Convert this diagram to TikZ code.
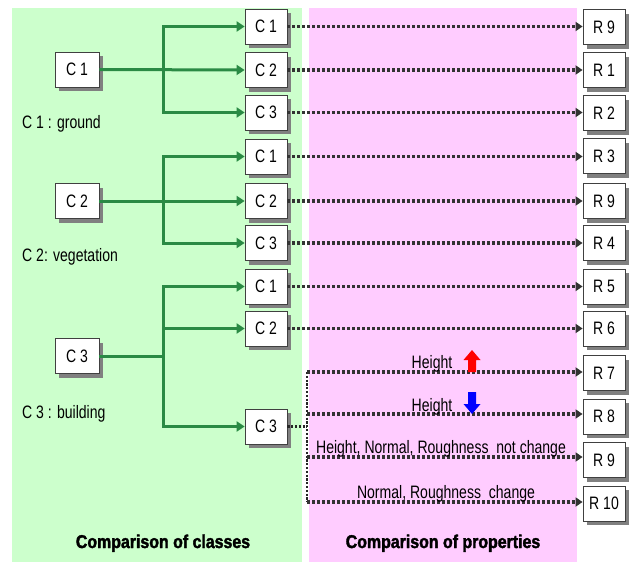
\documentclass[tikz,border=0pt]{standalone}
\usepackage{fontspec}
\setmainfont{Liberation Sans}[FakeStretch=0.78]
\newfontfamily\titlefont{Liberation Sans Bold}[FakeStretch=0.86, FakeBold=2]
\usetikzlibrary{arrows.meta,shadows}
\definecolor{panelgreen}{HTML}{CCFFCC}
\definecolor{panelpink}{HTML}{FFCCFF}
\definecolor{linegreen}{HTML}{2A8A44}
\definecolor{dotgray}{HTML}{333333}
\tikzset{
  cbox/.style={draw=black!75, line width=0.8pt, fill=white, minimum width=42pt,
    minimum height=35pt, inner sep=0pt, font=\fontsize{18}{20}\selectfont,
    drop shadow={shadow xshift=4pt, shadow yshift=-4pt, fill=black!50, opacity=1}},
  lbox/.style={cbox, minimum width=44pt},
  gline/.style={draw=linegreen, line width=3pt},
  garrow/.style={gline, -{Triangle[length=8pt,width=10pt]}},
  dline/.style={draw=dotgray, line width=3.2pt, dash pattern=on 3pt off 2pt},
  darrow/.style={dline, -{Triangle[length=7pt,width=9pt]}},
  vline/.style={draw=black!85, line width=2.2pt, dash pattern=on 2.2pt off 1.6pt},
  lbl/.style={font=\fontsize{18}{20}\selectfont, inner sep=0pt},
  title/.style={font=\titlefont\fontsize{18.5}{20}\selectfont, inner sep=0pt},
}
\begin{document}
\begin{tikzpicture}[x=1pt,y=-1pt]
\useasboundingbox (0,0) rectangle (629,562);
% background panels
\fill[panelgreen] (12,8) rectangle (302,562);
\fill[panelpink] (309,8) rectangle (577,562);

% source classes
\node[lbox] (L1) at (77,69.5) {C 1};
\node[lbox] (L2) at (77,201) {C 2};
\node[lbox] (L3) at (77,356) {C 3};

% target classes
\node[cbox] (M1) at (266,26.5) {C 1};
\node[cbox] (M2) at (266,70) {C 2};
\node[cbox] (M3) at (266,112.5) {C 3};
\node[cbox] (M4) at (266,156.5) {C 1};
\node[cbox] (M5) at (266,201) {C 2};
\node[cbox] (M6) at (266,243) {C 3};
\node[cbox] (M7) at (266,286.5) {C 1};
\node[cbox] (M8) at (266,328.5) {C 2};
\node[cbox] (M9) at (266,426.5) {C 3};

% results
\node[cbox] (R1) at (604,27) {R 9};
\node[cbox] (R2) at (604,70) {R 1};
\node[cbox] (R3) at (604,113) {R 2};
\node[cbox] (R4) at (604,156) {R 3};
\node[cbox] (R5) at (604,201) {R 9};
\node[cbox] (R6) at (604,243) {R 4};
\node[cbox] (R7) at (604,286.5) {R 5};
\node[cbox] (R8) at (604,328.5) {R 6};
\node[cbox] (R9) at (604,373) {R 7};
\node[cbox] (R10) at (604,416.5) {R 8};
\node[cbox] (R11) at (604,460) {R 9};
\node[cbox] (R12) at (604,503.5) {R 10};

% branching junctions
\coordinate (J) at (163,0);
\coordinate (K) at (307,0);

% class comparison arrows
\draw[garrow, {Triangle[length=8pt,width=10pt]}-{Triangle[length=8pt,width=10pt]}]
  (M1.west) -| (M3.west -| J) -- (M3.west);
\draw[garrow] (L1.east) -- (M2.west);
\draw[garrow, {Triangle[length=8pt,width=10pt]}-{Triangle[length=8pt,width=10pt]}]
  (M4.west) -| (M6.west -| J) -- (M6.west);
\draw[garrow] (L2.east) -- (M5.west);
\draw[garrow, {Triangle[length=8pt,width=10pt]}-{Triangle[length=8pt,width=10pt]}]
  (M7.west) -| (M9.west -| J) -- (M9.west);
\draw[garrow] (M8.west -| J) -- (M8.west);
\draw[gline] (L3.east) -- (L3.east -| J);

% property comparison arrows
\draw[darrow] (M1.east) -- (M1.east -| R1.west);
\draw[darrow] (M2.east) -- (M2.east -| R2.west);
\draw[darrow] (M3.east) -- (M3.east -| R3.west);
\draw[darrow] (M4.east) -- (M4.east -| R4.west);
\draw[darrow] (M5.east) -- (M5.east -| R5.west);
\draw[darrow] (M6.east) -- (M6.east -| R6.west);
\draw[darrow] (M7.east) -- (M7.east -| R7.west);
\draw[darrow] (M8.east) -- (M8.east -| R8.west);

\coordinate (K1) at (307,372);
\coordinate (K2) at (307,414);
\coordinate (K3) at (307,457);
\coordinate (K4) at (307,502);
\draw[vline] (M9.east) -- (M9.east -| K);
\draw[vline] (K1) -- (K4);
\draw[darrow] (K1) -- (K1 -| R9.west);
\draw[darrow] (K2) -- (K2 -| R10.west);
\draw[darrow] (K3) -- (K3 -| R11.west);
\draw[darrow] (K4) -- (K4 -| R12.west);

% property labels
\node[lbl, anchor=base] (t1) at (432,368) {Height};
\node[lbl, anchor=base] (t2) at (432,411) {Height};
\node[lbl, anchor=base] (t3) at (441,453) {Height, Normal, Roughness\ \ not change};
\node[lbl, anchor=base] (t4) at (446,498) {Normal, Roughness\ \ change};

% height up / down marks
\fill[red] (468,372) -- (468,360) -- (463.5,360) -- (472,350) -- (480.5,360)
  -- (476,360) -- (476,372) -- cycle;
\fill[blue] (468,392) -- (476,392) -- (476,404) -- (480.5,404) -- (472,414)
  -- (463.5,404) -- (468,404) -- cycle;

% class legend
\node[lbl, anchor=base west] (g1) at (22,128) {C 1 : ground};
\node[lbl, anchor=base west] (g2) at (22,261) {C 2: vegetation};
\node[lbl, anchor=base west] (g3) at (22,418) {C 3 : building};

% panel titles
\node[title, anchor=base] (h1) at (163,548) {Comparison of classes};
\node[title, anchor=base] (h2) at (443,548) {Comparison of properties};
\end{tikzpicture}
\end{document}
